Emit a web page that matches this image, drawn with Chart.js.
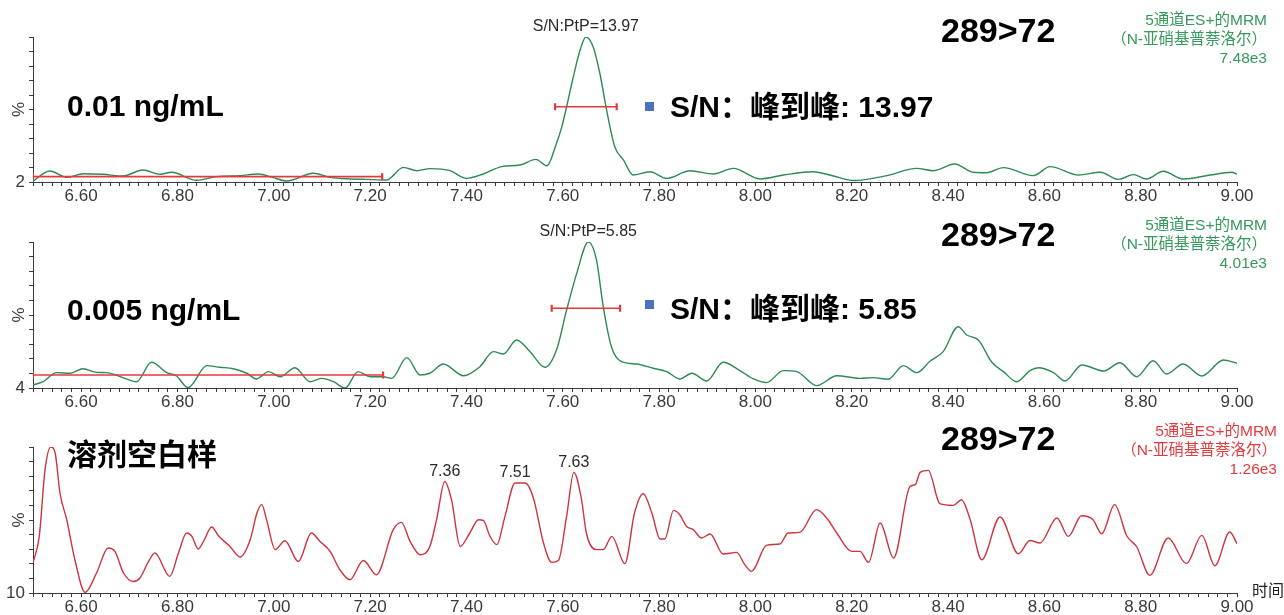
<!DOCTYPE html>
<html>
<head>
<meta charset="utf-8">
<script src="https://cdn.jsdelivr.net/npm/chart.js@4.4.1/dist/chart.umd.min.js"></script>
<style>
  html, body { margin: 0; padding: 0; background: #fff; }
  #wrap { position: relative; width: 1284px; height: 615px; overflow: hidden;
          font-family: "Liberation Sans", Arial, "Noto Sans CJK SC", sans-serif; }
  .panel { position: absolute; left: 0; width: 1284px; height: 205px; }
  .lbl { position: absolute; white-space: nowrap; z-index: 2; }
  .big { font-weight: bold; font-size: 30px; line-height: 30px; color: #000; }
  .mrm { font-weight: bold; font-size: 34px; line-height: 34px; color: #000; }
  .info { font-size: 15.5px; line-height: 19px; text-align: right; }
  .sq { position: absolute; width: 9px; height: 9px; background: #4a72c0; z-index: 2; }
</style>
</head>
<body>
<div id="wrap">
  <canvas id="cA" class="panel" width="1284" height="205" style="top:0px"></canvas>
  <canvas id="cB" class="panel" width="1284" height="205" style="top:205px"></canvas>
  <canvas id="cC" class="panel" width="1284" height="205" style="top:410px"></canvas>
</div>
<script>
// ---- 0.01 ng/mL trace (retention time, % intensity) ----
const timeA = [6.500, 6.535, 6.570, 6.604, 6.645, 6.687, 6.728, 6.764, 6.788, 6.840,
  6.881, 6.930, 6.968, 6.999, 7.027, 7.082, 7.117, 7.158, 7.193, 7.234,
  7.269, 7.297, 7.324, 7.366, 7.400, 7.435, 7.473, 7.511, 7.544, 7.567,
  7.587, 7.598, 7.608, 7.622, 7.636, 7.648, 7.663, 7.677, 7.691, 7.708,
  7.726, 7.746, 7.781, 7.816, 7.864, 7.913, 7.954, 8.010, 8.058, 8.120,
  8.162, 8.205, 8.273, 8.335, 8.369, 8.414, 8.452, 8.480, 8.515, 8.577,
  8.612, 8.671, 8.716, 8.754, 8.785, 8.812, 8.847, 8.888, 8.944, 8.989, 9.000];
const signalA = [0.5, 7.6, 3.2, 5.7, 5.3, 4.1, 8.3, 5.3, 6.7, 1.2,
  3.7, 4.4, 5.5, 3.0, 0.7, 6.0, 3.2, 2.1, 1.8, 1.4,
  10.1, 7.8, 9.2, 7.8, 2.5, 5.5, 10.6, 11.7, 15.6, 11.2,
  26.7, 38.0, 51.9, 72.6, 91.0, 100, 93.3, 75.0, 49.7, 24.3,
  15.2, 4.8, 7.1, 2.5, 7.8, 5.5, 9.4, 2.1, 4.8, 7.1,
  4.1, 1.0, 4.4, 9.4, 7.8, 12.4, 6.7, 6.4, 9.9, 4.4,
  10.6, 4.8, 6.7, 1.8, 5.1, 2.1, 7.4, 2.1, 4.8, 6.7, 5.3];

// ---- 0.005 ng/mL trace ----
const timeB = [6.500, 6.521, 6.549, 6.577, 6.604, 6.632, 6.653, 6.687, 6.715, 6.746,
  6.778, 6.798, 6.822, 6.861, 6.888, 6.916, 6.944, 6.964, 6.989, 7.013,
  7.044, 7.075, 7.099, 7.124, 7.148, 7.175, 7.200, 7.227, 7.245, 7.276,
  7.304, 7.324, 7.352, 7.394, 7.428, 7.456, 7.477, 7.504, 7.532, 7.563,
  7.587, 7.608, 7.629, 7.653, 7.670, 7.684, 7.701, 7.722, 7.753, 7.788,
  7.816, 7.843, 7.868, 7.899, 7.933, 7.968, 7.996, 8.023, 8.058, 8.086,
  8.127, 8.169, 8.217, 8.245, 8.276, 8.307, 8.335, 8.363, 8.390, 8.421,
  8.439, 8.463, 8.491, 8.515, 8.543, 8.570, 8.588, 8.619, 8.643, 8.678,
  8.723, 8.757, 8.792, 8.826, 8.854, 8.888, 8.927, 8.972, 9.000];
const signalB = [2.1, 4.3, 10.5, 10.1, 13.2, 10.7, 10.5, 7.1, 4.3, 17.6,
  10.5, 8.2, 0.2, 15.3, 14.2, 13.2, 10.1, 6.2, 11.2, 7.7,
  13.9, 4.3, 6.6, 4.3, 0.0, 11.2, 7.7, 7.7, 6.6, 20.8,
  8.9, 10.1, 16.4, 8.4, 14.6, 24.9, 23.3, 32.9, 24.9, 14.2,
  26.0, 53.4, 78.5, 100, 87.7, 55.7, 28.3, 18.0, 16.4, 13.5,
  11.2, 6.2, 10.1, 4.8, 17.6, 11.9, 6.2, 3.7, 11.9, 11.2,
  1.6, 8.4, 6.6, 7.1, 6.0, 15.3, 10.5, 18.5, 24.9, 42.0,
  36.3, 32.9, 17.6, 11.2, 4.3, 11.9, 13.9, 10.5, 4.8, 15.8,
  11.6, 17.3, 7.7, 18.7, 9.6, 16.4, 8.2, 19.2, 16.9];

// ---- solvent blank trace ----
const timeC = [6.500, 6.513, 6.525, 6.537, 6.546, 6.556, 6.570, 6.587, 6.608, 6.632,
  6.656, 6.670, 6.688, 6.708, 6.722, 6.740, 6.753, 6.784, 6.802, 6.819,
  6.830, 6.843, 6.854, 6.871, 6.885, 6.909, 6.930, 6.951, 6.965, 6.975,
  6.985, 7.003, 7.023, 7.051, 7.078, 7.096, 7.117, 7.137, 7.158, 7.186,
  7.213, 7.248, 7.265, 7.283, 7.304, 7.324, 7.338, 7.355, 7.369, 7.387,
  7.407, 7.425, 7.435, 7.449, 7.463, 7.480, 7.501, 7.522, 7.539, 7.560,
  7.577, 7.591, 7.608, 7.623, 7.639, 7.649, 7.670, 7.684, 7.702, 7.729,
  7.749, 7.767, 7.785, 7.802, 7.812, 7.830, 7.843, 7.857, 7.871, 7.888,
  7.906, 7.933, 7.961, 7.978, 7.992, 8.023, 8.051, 8.068, 8.092, 8.127,
  8.148, 8.169, 8.200, 8.217, 8.235, 8.259, 8.287, 8.321, 8.332, 8.342,
  8.359, 8.383, 8.411, 8.428, 8.446, 8.470, 8.508, 8.546, 8.570, 8.591,
  8.626, 8.650, 8.677, 8.701, 8.719, 8.746, 8.771, 8.792, 8.819, 8.857,
  8.895, 8.927, 8.954, 8.985, 9.000];
const signalC = [20.5, 38.8, 84.5, 100, 95.9, 68.5, 50.2, 22.8, 0.4, 13.7,
  30.8, 28.5, 13.7, 7.9, 10.3, 21.6, 27.4, 11.4, 27.4, 41.1,
  38.8, 30.1, 35.3, 45.2, 39.2, 31.9, 24.7, 36.5, 54.8, 60.5,
  50.2, 29.7, 35.8, 21.6, 41.1, 35.3, 28.5, 16.0, 9.1, 22.3,
  12.5, 43.4, 48.4, 35.3, 26.2, 31.9, 50.2, 76.4, 63.9, 31.9,
  41.1, 50.2, 49.7, 38.8, 33.1, 52.5, 75.3, 75.3, 65.1, 34.2,
  21.0, 22.3, 52.5, 82.6, 63.9, 41.1, 29.7, 29.7, 38.8, 20.1,
  54.8, 68.0, 54.8, 37.0, 37.0, 56.6, 53.6, 45.6, 43.4, 37.7,
  40.4, 26.7, 27.8, 19.4, 14.8, 32.6, 33.6, 41.1, 41.5, 57.1,
  51.4, 41.1, 28.5, 28.5, 21.0, 47.9, 24.0, 73.0, 74.2, 82.6,
  84.0, 61.2, 60.0, 63.9, 50.2, 22.8, 52.1, 26.9, 36.0, 34.2,
  51.4, 38.8, 52.9, 50.2, 40.6, 60.5, 39.2, 31.5, 12.1, 37.7,
  20.1, 39.5, 18.7, 41.8, 33.8];

// ---- axes and annotation values ----
const xTickLabels = ['6.60', '6.80', '7.00', '7.20', '7.40', '7.60', '7.80', '8.00', '8.20', '8.40', '8.60', '8.80', '9.00'];
const yBaseLabels = ['2', '4', '10'];
const sampleLabels = ['0.01 ng/mL', '0.005 ng/mL', '溶剂空白样'];
const transitionLabel = '289>72';
const channelLines = ['5通道ES+的MRM', '（N-亚硝基普萘洛尔）'];
const intensityLabels = ['7.48e3', '4.01e3', '1.26e3'];
const snValues = [13.97, 5.85];
const noiseSpans = [[6.50, 7.225], [6.50, 7.227]];
const noiseLevels = [3.7, 8.9];
const widthSpans = [[7.584, 7.712], [7.577, 7.719]];
const widthLevels = [51.9, 54.6];
const markedPeaksC = [7.36, 7.51, 7.63];

const FONT = '"Liberation Sans", Arial, "Noto Sans CJK SC", sans-serif';
const GREEN = '#2e8a55', GREEN_TXT = '#34995a';
const RED = '#cc343e', RED_TXT = '#e23b3b';
const BAR_RED = '#e5393c';
const AXIS = '#3a3a3a';

// labels drawn above chosen peaks (highest point near the given time)
const peakText = {
  id: 'peakText',
  afterDatasetsDraw(chart, _args, opts) {
    const items = opts.items || [];
    if (!items.length) return;
    const { ctx } = chart;
    const xs = chart.scales.x, ys = chart.scales.y;
    const pts = chart.data.datasets[opts.source].data;
    ctx.save();
    ctx.font = opts.size + 'px ' + FONT;
    ctx.fillStyle = '#2a2a2a';
    ctx.textAlign = 'center';
    ctx.textBaseline = 'middle';
    items.forEach(it => {
      let best = null;
      pts.forEach(p => {
        if (Math.abs(p.x - it.t) <= it.w && (!best || p.y > best.y)) best = p;
      });
      if (best) ctx.fillText(it.text, xs.getPixelForValue(best.x), ys.getPixelForValue(best.y) - 10);
    });
    ctx.restore();
  }
};

function xy(ts, vs) { return ts.map((t, i) => ({ x: t, y: vs[i] })); }

function spanSet(span, level) {
  return {
    data: [{ x: span[0], y: level }, { x: span[1], y: level }],
    borderColor: BAR_RED, borderWidth: 1.6,
    pointStyle: 'line', rotation: 90, pointRadius: 3.5, pointBorderWidth: 2.2,
    pointBorderColor: BAR_RED, pointBackgroundColor: BAR_RED,
    tension: 0, order: 0
  };
}

function makePanel(id, ts, vs, color, idx, axisHeight, extraSets, labelItems, labelSize) {
  const datasets = [{
    data: xy(ts, vs), borderColor: color, borderWidth: 1.4, pointRadius: 0,
    cubicInterpolationMode: 'monotone', order: 1
  }].concat(extraSets);
  new Chart(document.getElementById(id), {
    type: 'line',
    data: { datasets },
    options: {
      responsive: false, animation: false, events: [],
      layout: { padding: { top: 37, right: 47, left: 0, bottom: 0 } },
      plugins: { legend: { display: false }, tooltip: { enabled: false },
        peakText: { items: labelItems, source: 0, size: labelSize } },
      scales: {
        x: {
          type: 'linear', min: 6.5, max: 9.0,
          afterBuildTicks(s) {
            const t = [];
            for (let k = 650; k <= 900; k += 2) t.push({ value: k / 100 });
            s.ticks = t;
          },
          afterFit(s) { s.height = axisHeight; },
          ticks: {
            autoSkip: false, maxRotation: 0, minRotation: 0, padding: 0,
            color: AXIS, font: { family: FONT, size: 17 },
            callback(v) { const s = Number(v).toFixed(2); return xTickLabels.includes(s) ? s : ''; }
          },
          grid: { drawOnChartArea: false, drawTicks: true, tickLength: 4, color: AXIS },
          border: { display: true, color: AXIS, width: 1 }
        },
        y: {
          min: 0, max: 100,
          afterBuildTicks(s) {
            const t = [];
            for (let k = 0; k <= 100; k += 10) t.push({ value: k });
            s.ticks = t;
          },
          afterFit(s) { s.width = 33; },
          ticks: {
            autoSkip: false, padding: 4, color: AXIS, font: { family: FONT, size: 17 },
            callback(v) { return v === 0 ? yBaseLabels[idx] : ''; }
          },
          title: { display: true, text: '%', color: AXIS, font: { family: FONT, size: 17 },
                   padding: { top: 9, bottom: 0 } },
          grid: { drawOnChartArea: false, drawTicks: true, tickLength: 4, color: AXIS },
          border: { display: true, color: AXIS, width: 1 }
        }
      }
    },
    plugins: [peakText]
  });
}

makePanel('cA', timeA, signalA, GREEN, 0, 23,
  [spanSet(noiseSpans[0], noiseLevels[0]), spanSet(widthSpans[0], widthLevels[0])],
  [{ t: 7.65, w: 0.03, text: 'S/N:PtP=' + snValues[0].toFixed(2) }], 16);
makePanel('cB', timeB, signalB, GREEN, 1, 22,
  [spanSet(noiseSpans[1], noiseLevels[1]), spanSet(widthSpans[1], widthLevels[1])],
  [{ t: 7.65, w: 0.03, text: 'S/N:PtP=' + snValues[1].toFixed(2) }], 16);
makePanel('cC', timeC, signalC, RED, 2, 22, [],
  markedPeaksC.map(t => ({ t, w: 0.02, text: t.toFixed(2) })), 16);

// text blocks around the traces
const wrap = document.getElementById('wrap');
function addText(cls, text, css) {
  const d = document.createElement('div');
  d.className = 'lbl ' + cls;
  d.textContent = text;
  Object.assign(d.style, css);
  wrap.appendChild(d);
  return d;
}
function addSquare(left, top) {
  const s = document.createElement('div');
  s.className = 'sq';
  s.style.left = left + 'px';
  s.style.top = top + 'px';
  wrap.appendChild(s);
}

const sampleTop = [91, 295, 440];
const mrmTop = [13, 217, 421];
const infoTop = [9.5, 214.5, 420.5];
const infoRight = [17, 17, 7];
const infoColor = [GREEN_TXT, GREEN_TXT, RED_TXT];

for (let i = 0; i < 3; i++) {
  addText('big', sampleLabels[i], { left: '67px', top: sampleTop[i] + 'px' });
  addText('mrm', transitionLabel, { left: '941px', top: mrmTop[i] + 'px' });
  const info = addText('info', '', { right: infoRight[i] + 'px', top: infoTop[i] + 'px', color: infoColor[i] });
  channelLines.concat([intensityLabels[i]]).forEach(line => {
    const r = document.createElement('div');
    r.textContent = line;
    info.appendChild(r);
  });
}
const snTop = [92, 294];
const sqTop = [102, 300];
for (let i = 0; i < 2; i++) {
  addSquare(645, sqTop[i]);
  addText('big', 'S/N：峰到峰: ' + snValues[i].toFixed(2), { left: '670px', top: snTop[i] + 'px' });
}
addText('', '时间', { left: '1252px', top: '582px', fontSize: '16px', lineHeight: '18px', color: '#222' });
</script>
</body>
</html>
